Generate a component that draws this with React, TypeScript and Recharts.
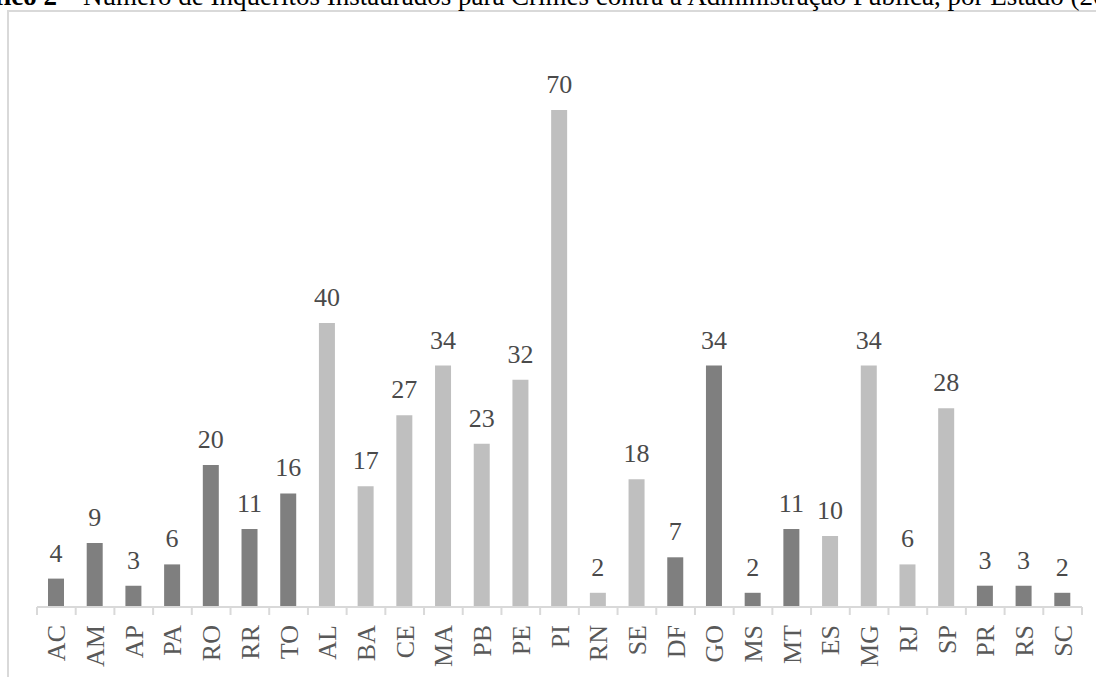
import { BarChart, Bar, XAxis, YAxis, Cell, LabelList } from "recharts"

const states = ["AC", "AM", "AP", "PA", "RO", "RR", "TO", "AL", "BA", "CE", "MA", "PB", "PE", "PI", "RN", "SE", "DF", "GO", "MS", "MT", "ES", "MG", "RJ", "SP", "PR", "RS", "SC"]
const inquiries = [4, 9, 3, 6, 20, 11, 16, 40, 17, 27, 34, 23, 32, 70, 2, 18, 7, 34, 2, 11, 10, 34, 6, 28, 3, 3, 2]
const regions = ["N", "N", "N", "N", "N", "N", "N", "NE", "NE", "NE", "NE", "NE", "NE", "NE", "NE", "NE", "CO", "CO", "CO", "CO", "SE", "SE", "SE", "SE", "S", "S", "S"]

const regionColor: Record<string, string> = {
  N: "#7f7f7f",
  NE: "#bfbfbf",
  CO: "#7f7f7f",
  SE: "#bfbfbf",
  S: "#7f7f7f",
}

const data = states.map((uf, i) => ({ uf, value: inquiries[i], region: regions[i] }))

const W = 1096
const H = 677
const M = { top: 39, right: 14, left: 37, bottom: 0 }
const band = (W - M.left - M.right) / states.length
const serif = "'Liberation Serif', 'Times New Roman', serif"

function StateTick(props: any) {
  const { x, y, payload, index } = props
  const last = index === states.length - 1
  return (
    <g>
      <line x1={x - band / 2} x2={x - band / 2} y1={y - 8} y2={y} stroke="#d9d9d9" strokeWidth={2} />
      {last && <line x1={x + band / 2} x2={x + band / 2} y1={y - 8} y2={y} stroke="#d9d9d9" strokeWidth={2} />}
      <g transform={`translate(${x},${y + 10})`}>
        <text transform="rotate(-90)" textAnchor="end" dy={9} fill="#595959" style={{ fontFamily: serif, fontSize: 26 }}>
          {payload.value}
        </text>
      </g>
    </g>
  )
}

function ValueLabel(props: any) {
  const { x, y, width, value } = props
  return (
    <text x={x + width / 2} y={y - 17} textAnchor="middle" fill="#4a4a4a" style={{ fontFamily: serif, fontSize: 26 }}>
      {value}
    </text>
  )
}

export default function App() {
  return (
    <div style={{ position: "fixed", left: 0, top: 0, width: W, height: H, overflow: "hidden", background: "#fff" }}>
      <div style={{ position: "absolute", left: 7, top: 10, width: 1200, height: 800, borderLeft: "2px solid #d9d9d9", borderTop: "2px solid #d9d9d9" }} />
      <svg width={W} height={20} style={{ position: "absolute", left: 0, top: 0, fontFamily: serif }}>
        <text x={57} y={5} textAnchor="end" fontSize={27} fontWeight="bold" fill="#000">Gráfico 2</text>
        <text x={63} y={4} fontSize={27} fill="#000">–</text>
        <text x={83} y={5} fontSize={27} fill="#000">
          Número de Inquéritos Instaurados para Crimes contra a Administração Pública, por Estado (2017)
        </text>
      </svg>
      <div style={{ position: "absolute", left: 0, top: 0 }}>
        <BarChart width={W} height={H} data={data} margin={M} barSize={16}>
          <XAxis
            dataKey="uf"
            interval={0}
            height={70}
            tickLine={false}
            axisLine={{ stroke: "#d9d9d9", strokeWidth: 2 }}
            tick={<StateTick />}
          />
          <YAxis hide domain={[0, 80]} />
          <Bar dataKey="value" isAnimationActive={false}>
            {data.map((d) => (
              <Cell key={d.uf} fill={regionColor[d.region]} />
            ))}
            <LabelList dataKey="value" content={<ValueLabel />} />
          </Bar>
        </BarChart>
      </div>
    </div>
  )
}
